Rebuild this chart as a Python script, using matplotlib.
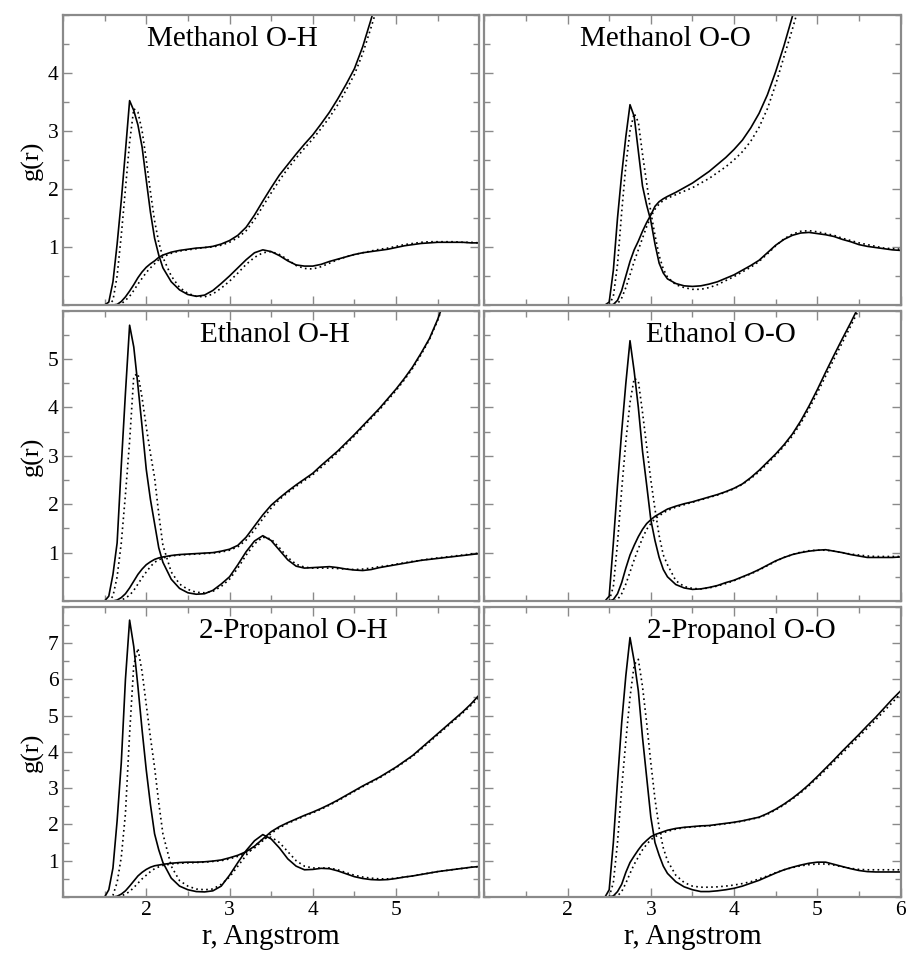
import numpy as np
import matplotlib
matplotlib.use('Agg')
import matplotlib.pyplot as plt
from matplotlib.ticker import MultipleLocator, NullFormatter

plt.rcParams['font.family'] = ['Liberation Serif', 'DejaVu Serif']
nan = np.nan

# r grids (Angstrom)
r_oh = [1.0, 1.5, 1.55, 1.6, 1.65, 1.7, 1.75, 1.8, 1.85, 1.9, 1.95, 2.0, 2.05, 2.1, 2.15, 2.2,
        2.3, 2.4, 2.5, 2.6, 2.7, 2.8, 2.9, 3.0, 3.1, 3.2, 3.3, 3.4, 3.5, 3.6, 3.7, 3.8, 3.9, 4.0,
        4.1, 4.2, 4.3, 4.4, 4.5, 4.6, 4.7, 4.8, 4.9, 5.0, 5.1, 5.2, 5.3, 5.4, 5.5, 5.6, 5.7, 5.8,
        5.9, 6.0]
r_oo = [1.0, 2.4, 2.45, 2.5, 2.55, 2.6, 2.65, 2.7, 2.75, 2.8, 2.85, 2.9, 2.95, 3.0, 3.05, 3.1,
        3.15, 3.2, 3.3, 3.4, 3.5, 3.6, 3.7, 3.8, 3.9, 4.0, 4.1, 4.2, 4.3, 4.4, 4.5, 4.6, 4.7, 4.8,
        4.9, 5.0, 5.1, 5.2, 5.3, 5.4, 5.5, 5.6, 5.7, 5.8, 5.9, 6.0]

# ---- Methanol O-H
meoh_oh_g = [0, 0, 0.05, 0.4, 1.05, 1.8, 2.65, 3.52, 3.35, 3.1, 2.72, 2.15, 1.6, 1.15, 0.86, 0.64,
             0.4, 0.26, 0.18, 0.15, 0.17, 0.25, 0.37, 0.5, 0.64, 0.78, 0.9, 0.95, 0.92, 0.85, 0.76,
             0.69, 0.67, 0.67, 0.7, 0.75, 0.79, 0.83, 0.87, 0.9, 0.92, 0.94, 0.96, 0.99, 1.02, 1.04,
             1.06, 1.07, 1.08, 1.08, 1.08, 1.08, 1.07, 1.07]
meoh_oh_g_ref = [0, 0, 0, 0.08, 0.5, 1.2, 2.0, 2.8, 3.38, 3.32, 3.0, 2.5, 1.95, 1.45, 1.08, 0.82,
                 0.5, 0.3, 0.2, 0.15, 0.14, 0.19, 0.29, 0.41, 0.55, 0.7, 0.82, 0.9, 0.92, 0.87, 0.78,
                 0.68, 0.63, 0.62, 0.66, 0.72, 0.78, 0.83, 0.87, 0.9, 0.93, 0.96, 0.98, 1.01, 1.04,
                 1.06, 1.08, 1.09, 1.09, 1.09, 1.09, 1.08, 1.08, 1.07]
meoh_oh_n = [0, 0, 0, 0, 0.01, 0.06, 0.14, 0.24, 0.35, 0.47, 0.57, 0.65, 0.71, 0.76, 0.82, 0.86,
             0.91, 0.94, 0.96, 0.98, 0.99, 1.01, 1.05, 1.11, 1.2, 1.34, 1.55, 1.79, 2.02, 2.24, 2.42,
             2.6, 2.77, 2.93, 3.12, 3.32, 3.55, 3.8, 4.07, 4.45, 4.92, 5.4, nan, nan, nan, nan, nan,
             nan, nan, nan, nan, nan, nan, nan]
meoh_oh_n_ref = [0, 0, 0, 0, 0, 0.02, 0.08, 0.15, 0.25, 0.36, 0.46, 0.56, 0.64, 0.71, 0.78, 0.83,
                 0.89, 0.93, 0.95, 0.97, 0.99, 1.0, 1.03, 1.08, 1.16, 1.28, 1.47, 1.7, 1.93, 2.15,
                 2.35, 2.53, 2.7, 2.86, 3.04, 3.23, 3.45, 3.7, 3.97, 4.33, 4.78, 5.25, nan, nan, nan,
                 nan, nan, nan, nan, nan, nan, nan, nan, nan]

# ---- Ethanol O-H
etoh_oh_g = [0, 0, 0.1, 0.55, 1.2, 2.8, 4.3, 5.7, 5.25, 4.45, 3.6, 2.72, 2.1, 1.6, 1.1, 0.8,
             0.45, 0.26, 0.17, 0.14, 0.15, 0.22, 0.35, 0.5, 0.75, 1.02, 1.24, 1.35, 1.25, 1.05, 0.85,
             0.72, 0.68, 0.69, 0.7, 0.71, 0.69, 0.66, 0.64, 0.63, 0.65, 0.69, 0.72, 0.75, 0.78, 0.81,
             0.84, 0.86, 0.88, 0.9, 0.92, 0.94, 0.96, 0.98]
etoh_oh_g_ref = [0, 0, 0, 0.1, 0.5, 1.2, 2.2, 3.3, 4.65, 4.7, 4.2, 3.6, 3.05, 2.55, 1.8, 1.15,
                 0.6, 0.35, 0.24, 0.18, 0.17, 0.2, 0.3, 0.45, 0.68, 0.95, 1.18, 1.32, 1.28, 1.1, 0.9,
                 0.76, 0.7, 0.68, 0.68, 0.68, 0.67, 0.66, 0.65, 0.66, 0.68, 0.71, 0.73, 0.76, 0.79,
                 0.82, 0.84, 0.87, 0.89, 0.91, 0.93, 0.95, 0.97, 0.99]
etoh_oh_n = [0, 0, 0, 0, 0.02, 0.07, 0.15, 0.27, 0.41, 0.55, 0.66, 0.75, 0.81, 0.86, 0.89, 0.91,
             0.94, 0.96, 0.97, 0.98, 0.99, 1.0, 1.03, 1.07, 1.15, 1.32, 1.55, 1.78, 1.98, 2.13, 2.27,
             2.4, 2.52, 2.64, 2.8, 2.95, 3.1, 3.27, 3.44, 3.62, 3.8, 3.98, 4.18, 4.38, 4.6, 4.84,
             5.12, 5.42, 5.82, 6.3, nan, nan, nan, nan]
etoh_oh_n_ref = [0, 0, 0, 0, 0, 0.02, 0.06, 0.12, 0.22, 0.35, 0.48, 0.6, 0.71, 0.8, 0.85, 0.89,
                 0.93, 0.95, 0.96, 0.97, 0.98, 0.99, 1.01, 1.05, 1.12, 1.26, 1.47, 1.7, 1.92, 2.1,
                 2.24, 2.37, 2.49, 2.61, 2.76, 2.91, 3.07, 3.24, 3.41, 3.59, 3.77, 3.95, 4.15, 4.35,
                 4.57, 4.81, 5.09, 5.4, 5.8, 6.28, nan, nan, nan, nan]

# ---- 2-Propanol O-H
proh_oh_g = [0, 0, 0.2, 0.8, 2.1, 3.7, 6.0, 7.63, 6.9, 5.8, 4.6, 3.5, 2.55, 1.74, 1.3, 0.95,
             0.52, 0.3, 0.2, 0.15, 0.14, 0.17, 0.3, 0.6, 0.95, 1.28, 1.55, 1.72, 1.6, 1.35, 1.05,
             0.85, 0.75, 0.76, 0.79, 0.78, 0.72, 0.64, 0.56, 0.51, 0.48, 0.47, 0.48, 0.51, 0.55,
             0.58, 0.62, 0.66, 0.7, 0.73, 0.76, 0.79, 0.82, 0.84]
proh_oh_g_ref = [0, 0, 0, 0.05, 0.4, 1.1, 2.3, 4.5, 6.4, 6.85, 6.2, 5.3, 4.4, 3.57, 2.6, 1.74,
                 0.85, 0.45, 0.3, 0.22, 0.2, 0.22, 0.35, 0.55, 0.85, 1.15, 1.4, 1.6, 1.65, 1.5, 1.25,
                 1.0, 0.85, 0.8, 0.8, 0.8, 0.75, 0.67, 0.6, 0.55, 0.52, 0.5, 0.5, 0.52, 0.55, 0.58,
                 0.62, 0.66, 0.7, 0.73, 0.76, 0.79, 0.82, 0.84]
proh_oh_n = [0, 0, 0, 0, 0.02, 0.08, 0.17, 0.3, 0.44, 0.58, 0.68, 0.76, 0.82, 0.86, 0.88, 0.9,
             0.93, 0.95, 0.96, 0.96, 0.97, 0.99, 1.02, 1.08, 1.15, 1.25, 1.4, 1.6, 1.8, 1.94, 2.05,
             2.15, 2.25, 2.34, 2.44, 2.55, 2.67, 2.8, 2.93, 3.06, 3.18, 3.3, 3.44, 3.58, 3.74, 3.9,
             4.1, 4.3, 4.5, 4.7, 4.9, 5.1, 5.32, 5.57]
proh_oh_n_ref = [0, 0, 0, 0, 0, 0.03, 0.08, 0.15, 0.26, 0.38, 0.5, 0.6, 0.7, 0.78, 0.83, 0.87,
                 0.91, 0.93, 0.94, 0.95, 0.96, 0.98, 1.0, 1.05, 1.12, 1.21, 1.35, 1.55, 1.75, 1.91,
                 2.03, 2.13, 2.23, 2.32, 2.42, 2.53, 2.65, 2.78, 2.91, 3.04, 3.16, 3.28, 3.42, 3.56,
                 3.72, 3.88, 4.07, 4.27, 4.47, 4.67, 4.87, 5.07, 5.28, 5.5]

# ---- Methanol O-O
meoh_oo_g = [0, 0, 0, 0.05, 0.6, 1.5, 2.25, 2.9, 3.45, 3.25, 2.65, 2.05, 1.72, 1.45, 1.05, 0.72,
             0.55, 0.45, 0.37, 0.33, 0.32, 0.33, 0.36, 0.4, 0.46, 0.52, 0.6, 0.68, 0.77, 0.9, 1.03,
             1.13, 1.2, 1.24, 1.25, 1.23, 1.21, 1.18, 1.13, 1.09, 1.04, 1.01, 0.99, 0.97, 0.95, 0.94]
meoh_oo_g_ref = [0, 0, 0, 0, 0.15, 0.7, 1.6, 2.4, 3.0, 3.3, 3.15, 2.6, 2.1, 1.6, 1.2, 0.85, 0.62,
                 0.48, 0.35, 0.3, 0.27, 0.27, 0.3, 0.35, 0.42, 0.49, 0.57, 0.65, 0.75, 0.88, 1.02,
                 1.14, 1.22, 1.27, 1.28, 1.26, 1.23, 1.2, 1.15, 1.11, 1.07, 1.04, 1.01, 0.98, 0.97,
                 0.96]
meoh_oo_n = [0, 0, 0, 0, 0.01, 0.08, 0.25, 0.5, 0.75, 0.95, 1.1, 1.27, 1.42, 1.55, 1.7, 1.78,
             1.83, 1.87, 1.94, 2.02, 2.1, 2.2, 2.3, 2.42, 2.54, 2.68, 2.84, 3.05, 3.3, 3.62, 4.02,
             4.47, 4.97, 5.5, nan, nan, nan, nan, nan, nan, nan, nan, nan, nan, nan, nan]
meoh_oo_n_ref = [0, 0, 0, 0, 0, 0.02, 0.12, 0.3, 0.52, 0.75, 0.95, 1.15, 1.35, 1.52, 1.65, 1.74,
                 1.8, 1.84, 1.9, 1.96, 2.02, 2.1, 2.18, 2.28, 2.38, 2.5, 2.64, 2.82, 3.06, 3.38, 3.8,
                 4.28, 4.75, 5.25, nan, nan, nan, nan, nan, nan, nan, nan, nan, nan, nan, nan]

# ---- Ethanol O-O
etoh_oo_g = [0, 0, 0, 0.1, 1.2, 2.4, 3.5, 4.5, 5.38, 4.75, 4.0, 3.1, 2.4, 1.68, 1.25, 0.9, 0.65,
             0.5, 0.34, 0.27, 0.24, 0.25, 0.28, 0.32, 0.38, 0.43, 0.5, 0.57, 0.65, 0.74, 0.83, 0.9,
             0.96, 1.0, 1.03, 1.05, 1.06, 1.03, 1.0, 0.96, 0.93, 0.9, 0.9, 0.9, 0.9, 0.91]
etoh_oo_g_ref = [0, 0, 0, 0, 0.3, 1.2, 2.3, 3.3, 4.1, 4.6, 4.55, 3.9, 3.2, 2.5, 1.9, 1.35, 0.95,
                 0.75, 0.42, 0.3, 0.26, 0.25, 0.27, 0.31, 0.36, 0.42, 0.49, 0.56, 0.64, 0.73, 0.82,
                 0.9, 0.96, 1.01, 1.04, 1.05, 1.05, 1.03, 1.0, 0.97, 0.95, 0.93, 0.92, 0.92, 0.92,
                 0.92]
etoh_oo_n = [0, 0, 0, 0, 0.03, 0.15, 0.38, 0.68, 0.95, 1.15, 1.33, 1.48, 1.6, 1.68, 1.75, 1.8,
             1.85, 1.9, 1.96, 2.01, 2.05, 2.1, 2.15, 2.2, 2.26, 2.33, 2.42, 2.55, 2.7, 2.87, 3.04,
             3.23, 3.45, 3.72, 4.03, 4.37, 4.73, 5.08, 5.42, 5.75, 6.1, nan, nan, nan, nan, nan]
etoh_oo_n_ref = [0, 0, 0, 0, 0, 0.03, 0.15, 0.35, 0.6, 0.85, 1.08, 1.3, 1.48, 1.6, 1.7, 1.76,
                 1.82, 1.87, 1.94, 1.99, 2.04, 2.09, 2.14, 2.19, 2.25, 2.32, 2.41, 2.53, 2.67, 2.84,
                 3.01, 3.2, 3.41, 3.67, 3.97, 4.3, 4.65, 5.0, 5.34, 5.68, 6.03, nan, nan, nan, nan,
                 nan]

# ---- 2-Propanol O-O
proh_oo_g = [0, 0, 0, 0.2, 1.5, 3.2, 4.8, 6.1, 7.15, 6.5, 5.68, 4.4, 3.3, 2.2, 1.5, 1.15, 0.85,
             0.65, 0.42, 0.28, 0.2, 0.15, 0.15, 0.17, 0.2, 0.24, 0.3, 0.38, 0.46, 0.56, 0.66, 0.75,
             0.82, 0.88, 0.93, 0.96, 0.96, 0.9, 0.84, 0.78, 0.73, 0.7, 0.69, 0.69, 0.69, 0.69]
proh_oo_g_ref = [0, 0, 0, 0, 0.4, 1.5, 3.0, 4.3, 5.5, 6.4, 6.55, 5.8, 4.8, 3.7, 2.7, 1.9, 1.35,
                 1.0, 0.6, 0.4, 0.3, 0.27, 0.27, 0.28, 0.3, 0.33, 0.37, 0.42, 0.5, 0.58, 0.67, 0.75,
                 0.81, 0.86, 0.89, 0.91, 0.91, 0.88, 0.83, 0.79, 0.76, 0.75, 0.75, 0.75, 0.75, 0.75]
proh_oo_n = [0, 0, 0, 0, 0.03, 0.15, 0.35, 0.68, 0.95, 1.13, 1.3, 1.45, 1.56, 1.66, 1.72, 1.76,
             1.8, 1.84, 1.89, 1.92, 1.94, 1.96, 1.97, 2.0, 2.03, 2.06, 2.1, 2.15, 2.2, 2.3, 2.42,
             2.56, 2.72, 2.9, 3.1, 3.32, 3.55, 3.78, 4.02, 4.25, 4.48, 4.72, 4.95, 5.2, 5.45, 5.68]
proh_oo_n_ref = [0, 0, 0, 0, 0, 0.03, 0.15, 0.38, 0.65, 0.9, 1.1, 1.3, 1.45, 1.58, 1.66, 1.72,
                 1.77, 1.81, 1.87, 1.91, 1.93, 1.95, 1.96, 1.99, 2.02, 2.05, 2.09, 2.14, 2.19, 2.28,
                 2.4, 2.54, 2.7, 2.87, 3.07, 3.28, 3.5, 3.73, 3.96, 4.19, 4.42, 4.65, 4.88, 5.12,
                 5.36, 5.6]

titles = [['Methanol O-H', 'Methanol O-O'],
          ['Ethanol O-H', 'Ethanol O-O'],
          ['2-Propanol O-H', '2-Propanol O-O']]
curves = [[(r_oh, meoh_oh_g, meoh_oh_g_ref, meoh_oh_n, meoh_oh_n_ref),
           (r_oo, meoh_oo_g, meoh_oo_g_ref, meoh_oo_n, meoh_oo_n_ref)],
          [(r_oh, etoh_oh_g, etoh_oh_g_ref, etoh_oh_n, etoh_oh_n_ref),
           (r_oo, etoh_oo_g, etoh_oo_g_ref, etoh_oo_n, etoh_oo_n_ref)],
          [(r_oh, proh_oh_g, proh_oh_g_ref, proh_oh_n, proh_oh_n_ref),
           (r_oo, proh_oo_g, proh_oo_g_ref, proh_oo_n, proh_oo_n_ref)]]
ymax = [5, 6, 8]
title_x = [[0.406, 0.436], [0.508, 0.568], [0.554, 0.618]]

W, H = 922, 966
fig = plt.figure(figsize=(W / 100, H / 100), dpi=100)
col_left = [63, 484.3]
col_w = 416.3
row_top = [14.7, 310.7, 606.7]
row_h = 290.3
spine_c = '#8a8a8a'

for i in range(3):
    for j in range(2):
        ax = fig.add_axes([col_left[j] / W, 1 - (row_top[i] + row_h) / H, col_w / W, row_h / H])
        r, g, gref, n, nref = curves[i][j]
        ax.plot(r, g, color='black', lw=1.2)
        ax.plot(r, gref, color='black', lw=1.2, linestyle=(0, (1, 2)))
        ax.plot(r, n, color='black', lw=1.2)
        ax.plot(r, nref, color='black', lw=1.2, linestyle=(0, (1, 2)))
        ax.set_xlim(1, 6)
        ax.set_ylim(0, ymax[i])
        ax.set_xticks([2, 3, 4, 5] if j == 0 else [2, 3, 4, 5, 6])
        ax.xaxis.set_minor_locator(MultipleLocator(0.5))
        ax.set_yticks(list(range(1, ymax[i])))
        ax.yaxis.set_minor_locator(MultipleLocator(0.5))
        ax.tick_params(which='both', direction='in', top=True, right=True,
                       color=spine_c, width=1.0, labelsize=15.5, pad=3)
        ax.tick_params(which='major', length=6.5)
        ax.tick_params(which='minor', length=4)
        for s in ax.spines.values():
            s.set_color(spine_c)
            s.set_linewidth(1.6)
        if i < 2:
            ax.xaxis.set_major_formatter(NullFormatter())
        else:
            ax.set_xlabel('r, Angstrom', fontsize=21, labelpad=3)
        if j == 1:
            ax.yaxis.set_major_formatter(NullFormatter())
        else:
            ax.set_ylabel('g(r)', fontsize=19, labelpad=3)
        ax.text(title_x[i][j], 0.917, titles[i][j], transform=ax.transAxes,
                ha='center', va='center', fontsize=21)

fig.savefig('out.png', dpi=100)
